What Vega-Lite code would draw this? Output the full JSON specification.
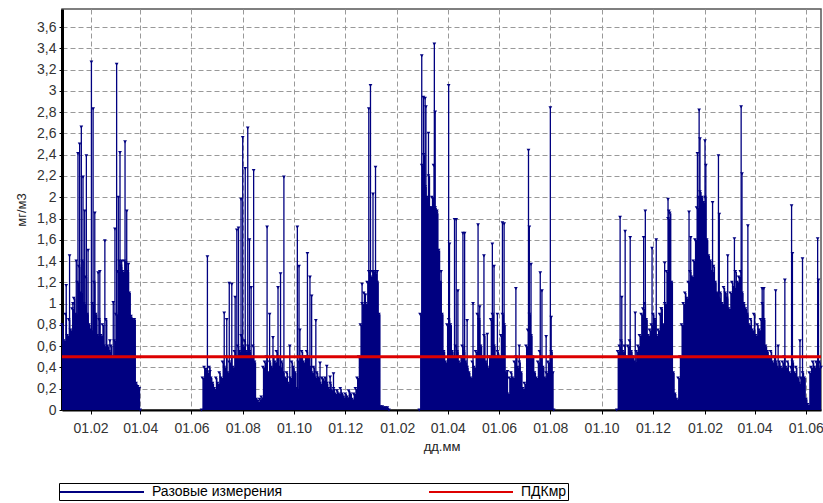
{
 "$schema": "https://vega.github.io/schema/vega-lite/v6.json",
 "width": 759,
 "height": 401,
 "autosize": {"type": "none"},
 "padding": {"left": 62, "top": 9, "right": 2, "bottom": 93},
 "background": "white",
 "config": {
  "font": "Liberation Sans",
  "view": {"stroke": "#555", "strokeWidth": 1.5},
  "axis": {"gridColor": "#999", "gridDash": [5, 3], "gridWidth": 1, "labelFont": "Liberation Sans", "labelFontSize": 14, "labelColor": "#333", "labelOverlap": false, "titleFont": "Liberation Sans", "titleFontSize": 13, "titleFontWeight": "normal", "titleColor": "#222", "domainColor": "#000", "tickColor": "#000"}
 },
 "datasets": {
  "base": [
   {"d":"2010-12-29","v":0.8},{"d":"2010-12-31","v":0.65},{"d":"2011-01-02","v":0.9},{"d":"2011-01-04","v":0.7},{"d":"2011-01-06","v":0.85},{"d":"2011-01-08","v":0.75},{"d":"2011-01-10","v":0.95},{"d":"2011-01-12","v":1.05},{"d":"2011-01-14","v":0.9},{"d":"2011-01-16","v":1.2},{"d":"2011-01-18","v":1.35},{"d":"2011-01-20","v":1.1},{"d":"2011-01-22","v":1.4},{"d":"2011-01-24","v":1.0},{"d":"2011-01-26","v":1.25},{"d":"2011-01-28","v":0.9},{"d":"2011-01-30","v":0.8},{"d":"2011-02-01","v":0.75},{"d":"2011-02-03","v":1.0},{"d":"2011-02-05","v":1.2},{"d":"2011-02-07","v":0.9},{"d":"2011-02-09","v":0.7},{"d":"2011-02-11","v":0.85},{"d":"2011-02-13","v":0.7},{"d":"2011-02-15","v":0.8},{"d":"2011-02-17","v":0.6},{"d":"2011-02-19","v":0.85},{"d":"2011-02-21","v":0.6},{"d":"2011-02-23","v":0.55},{"d":"2011-02-25","v":0.6},{"d":"2011-02-27","v":0.5},{"d":"2011-03-01","v":0.65},{"d":"2011-03-03","v":0.9},{"d":"2011-03-05","v":1.3},{"d":"2011-03-07","v":1.4},{"d":"2011-03-09","v":1.35},{"d":"2011-03-11","v":1.3},{"d":"2011-03-13","v":1.4},{"d":"2011-03-15","v":1.38},{"d":"2011-03-17","v":1.3},{"d":"2011-03-19","v":1.1},{"d":"2011-03-21","v":0.88},{"d":"2011-03-23","v":0.85},{"d":"2011-03-25","v":0.85},{"d":"2011-03-27","v":0.25},{"d":"2011-03-29","v":0.22},{"d":"2011-03-31","v":0.2},{"d":"2011-04-01","v":0},
   {"d":"2011-06-13","v":0},{"d":"2011-06-14","v":0.3},{"d":"2011-06-16","v":0.4},{"d":"2011-06-18","v":0.38},{"d":"2011-06-20","v":0.35},{"d":"2011-06-22","v":0.4},{"d":"2011-06-24","v":0.3},{"d":"2011-06-26","v":0.25},{"d":"2011-06-28","v":0.2},{"d":"2011-06-30","v":0.3},{"d":"2011-07-02","v":0.25},{"d":"2011-07-04","v":0.35},{"d":"2011-07-06","v":0.3},{"d":"2011-07-08","v":0.45},{"d":"2011-07-10","v":0.4},{"d":"2011-07-12","v":0.5},{"d":"2011-07-14","v":0.35},{"d":"2011-07-16","v":0.45},{"d":"2011-07-18","v":0.5},{"d":"2011-07-20","v":0.4},{"d":"2011-07-22","v":0.55},{"d":"2011-07-24","v":0.5},{"d":"2011-07-26","v":0.6},{"d":"2011-07-28","v":0.55},{"d":"2011-07-30","v":0.7},{"d":"2011-08-01","v":0.6},{"d":"2011-08-03","v":0.65},{"d":"2011-08-05","v":0.55},{"d":"2011-08-07","v":0.6},{"d":"2011-08-09","v":0.55},{"d":"2011-08-11","v":0.5},{"d":"2011-08-13","v":0.6},{"d":"2011-08-15","v":0.45},{"d":"2011-08-17","v":0.1},{"d":"2011-08-19","v":0.08},{"d":"2011-08-21","v":0.1},{"d":"2011-08-23","v":0.12},{"d":"2011-08-25","v":0.4},{"d":"2011-08-27","v":0.45},{"d":"2011-08-29","v":0.5},{"d":"2011-08-31","v":0.35},{"d":"2011-09-02","v":0.45},{"d":"2011-09-04","v":0.4},{"d":"2011-09-06","v":0.5},{"d":"2011-09-08","v":0.45},{"d":"2011-09-10","v":0.55},{"d":"2011-09-12","v":0.5},{"d":"2011-09-14","v":0.4},{"d":"2011-09-16","v":0.45},{"d":"2011-09-18","v":0.35},{"d":"2011-09-20","v":0.3},{"d":"2011-09-22","v":0.35},{"d":"2011-09-24","v":0.25},{"d":"2011-09-26","v":0.3},{"d":"2011-09-28","v":0.45},{"d":"2011-09-30","v":0.4},{"d":"2011-10-02","v":0.35},{"d":"2011-10-04","v":0.2},{"d":"2011-10-06","v":0.45},{"d":"2011-10-08","v":0.5},{"d":"2011-10-10","v":0.55},{"d":"2011-10-12","v":0.45},{"d":"2011-10-14","v":0.5},{"d":"2011-10-16","v":0.55},{"d":"2011-10-18","v":0.5},{"d":"2011-10-20","v":0.4},{"d":"2011-10-22","v":0.35},{"d":"2011-10-24","v":0.4},{"d":"2011-10-26","v":0.3},{"d":"2011-10-28","v":0.35},{"d":"2011-10-30","v":0.3},{"d":"2011-11-01","v":0.25},{"d":"2011-11-03","v":0.3},{"d":"2011-11-05","v":0.28},{"d":"2011-11-07","v":0.3},{"d":"2011-11-09","v":0.25},{"d":"2011-11-11","v":0.2},{"d":"2011-11-13","v":0.25},{"d":"2011-11-15","v":0.18},{"d":"2011-11-17","v":0.2},{"d":"2011-11-19","v":0.15},{"d":"2011-11-21","v":0.18},{"d":"2011-11-23","v":0.15},{"d":"2011-11-25","v":0.2},{"d":"2011-11-27","v":0.15},{"d":"2011-11-29","v":0.12},{"d":"2011-12-01","v":0.15},{"d":"2011-12-03","v":0.12},{"d":"2011-12-05","v":0.18},{"d":"2011-12-07","v":0.15},{"d":"2011-12-09","v":0.1},{"d":"2011-12-11","v":0.15},{"d":"2011-12-13","v":0.2},{"d":"2011-12-15","v":0.3},{"d":"2011-12-17","v":0.5},{"d":"2011-12-19","v":0.8},{"d":"2011-12-21","v":1.0},{"d":"2011-12-23","v":1.1},{"d":"2011-12-25","v":1.0},{"d":"2011-12-27","v":1.2},{"d":"2011-12-29","v":1.3},{"d":"2011-12-31","v":1.25},{"d":"2012-01-02","v":1.3},{"d":"2012-01-04","v":1.3},{"d":"2012-01-06","v":1.28},{"d":"2012-01-08","v":1.2},{"d":"2012-01-10","v":0.9},{"d":"2012-01-12","v":0.03},{"d":"2012-01-14","v":0.03},{"d":"2012-01-16","v":0.02},{"d":"2012-01-18","v":0.02},{"d":"2012-01-20","v":0.02},{"d":"2012-01-22","v":0},
   {"d":"2012-02-27","v":0},{"d":"2012-02-28","v":0.9},{"d":"2012-03-01","v":2.3},{"d":"2012-03-03","v":2.4},{"d":"2012-03-05","v":2.1},{"d":"2012-03-07","v":2.0},{"d":"2012-03-09","v":2.2},{"d":"2012-03-11","v":1.9},{"d":"2012-03-13","v":2.0},{"d":"2012-03-15","v":2.3},{"d":"2012-03-17","v":1.9},{"d":"2012-03-19","v":1.85},{"d":"2012-03-21","v":1.5},{"d":"2012-03-23","v":1.2},{"d":"2012-03-25","v":0.9},{"d":"2012-03-27","v":0.55},{"d":"2012-03-29","v":0.45},{"d":"2012-03-31","v":0.8},{"d":"2012-04-02","v":0.85},{"d":"2012-04-04","v":0.8},{"d":"2012-04-06","v":0.55},{"d":"2012-04-08","v":0.5},{"d":"2012-04-10","v":0.6},{"d":"2012-04-12","v":0.55},{"d":"2012-04-14","v":0.45},{"d":"2012-04-16","v":0.5},{"d":"2012-04-18","v":0.6},{"d":"2012-04-20","v":0.55},{"d":"2012-04-22","v":0.45},{"d":"2012-04-24","v":0.4},{"d":"2012-04-26","v":0.35},{"d":"2012-04-28","v":0.3},{"d":"2012-04-30","v":0.45},{"d":"2012-05-02","v":0.4},{"d":"2012-05-04","v":0.55},{"d":"2012-05-06","v":0.9},{"d":"2012-05-08","v":0.85},{"d":"2012-05-10","v":0.6},{"d":"2012-05-12","v":0.5},{"d":"2012-05-14","v":0.7},{"d":"2012-05-16","v":0.45},{"d":"2012-05-18","v":0.4},{"d":"2012-05-20","v":0.5},{"d":"2012-05-22","v":0.85},{"d":"2012-05-24","v":0.9},{"d":"2012-05-26","v":0.6},{"d":"2012-05-28","v":0.5},{"d":"2012-05-30","v":0.55},{"d":"2012-06-01","v":0.5},{"d":"2012-06-03","v":0.7},{"d":"2012-06-05","v":0.9},{"d":"2012-06-07","v":0.8},{"d":"2012-06-09","v":0.35},{"d":"2012-06-11","v":0.15},{"d":"2012-06-13","v":0.3},{"d":"2012-06-15","v":0.35},{"d":"2012-06-17","v":0.3},{"d":"2012-06-19","v":0.45},{"d":"2012-06-21","v":0.5},{"d":"2012-06-23","v":0.4},{"d":"2012-06-25","v":0.45},{"d":"2012-06-27","v":0.35},{"d":"2012-06-29","v":0.2},{"d":"2012-07-01","v":0.25},{"d":"2012-07-03","v":0.6},{"d":"2012-07-05","v":0.75},{"d":"2012-07-07","v":0.9},{"d":"2012-07-09","v":0.7},{"d":"2012-07-11","v":0.5},{"d":"2012-07-13","v":0.35},{"d":"2012-07-15","v":0.3},{"d":"2012-07-17","v":0.45},{"d":"2012-07-19","v":0.55},{"d":"2012-07-21","v":0.5},{"d":"2012-07-23","v":0.4},{"d":"2012-07-25","v":0.3},{"d":"2012-07-27","v":0.35},{"d":"2012-07-29","v":0.45},{"d":"2012-07-31","v":0.5},{"d":"2012-08-02","v":0.55},{"d":"2012-08-04","v":0.35},{"d":"2012-08-05","v":0},
   {"d":"2012-10-19","v":0},{"d":"2012-10-20","v":0.55},{"d":"2012-10-22","v":0.6},{"d":"2012-10-24","v":0.65},{"d":"2012-10-26","v":0.55},{"d":"2012-10-28","v":0.6},{"d":"2012-10-30","v":0.5},{"d":"2012-11-01","v":0.6},{"d":"2012-11-03","v":0.65},{"d":"2012-11-05","v":0.55},{"d":"2012-11-07","v":0.5},{"d":"2012-11-09","v":0.45},{"d":"2012-11-11","v":0.55},{"d":"2012-11-13","v":0.6},{"d":"2012-11-15","v":0.7},{"d":"2012-11-17","v":0.9},{"d":"2012-11-19","v":0.95},{"d":"2012-11-21","v":1.0},{"d":"2012-11-23","v":0.85},{"d":"2012-11-25","v":0.7},{"d":"2012-11-27","v":0.75},{"d":"2012-11-29","v":0.8},{"d":"2012-12-01","v":0.9},{"d":"2012-12-03","v":0.85},{"d":"2012-12-05","v":0.7},{"d":"2012-12-07","v":0.75},{"d":"2012-12-09","v":0.9},{"d":"2012-12-11","v":0.95},{"d":"2012-12-13","v":0.8},{"d":"2012-12-15","v":1.0},{"d":"2012-12-17","v":1.3},{"d":"2012-12-19","v":1.8},{"d":"2012-12-21","v":1.85},{"d":"2012-12-23","v":1.2},{"d":"2012-12-25","v":0.35},{"d":"2012-12-27","v":0.15},{"d":"2012-12-29","v":0.1},{"d":"2012-12-31","v":0.3},{"d":"2013-01-02","v":0.5},{"d":"2013-01-04","v":0.8},{"d":"2013-01-06","v":1.0},{"d":"2013-01-08","v":1.1},{"d":"2013-01-10","v":1.05},{"d":"2013-01-12","v":1.2},{"d":"2013-01-14","v":1.3},{"d":"2013-01-16","v":1.25},{"d":"2013-01-18","v":1.4},{"d":"2013-01-20","v":1.6},{"d":"2013-01-22","v":1.9},{"d":"2013-01-24","v":2.0},{"d":"2013-01-26","v":2.05},{"d":"2013-01-28","v":2.0},{"d":"2013-01-30","v":1.95},{"d":"2013-02-01","v":2.0},{"d":"2013-02-03","v":1.6},{"d":"2013-02-05","v":1.45},{"d":"2013-02-07","v":1.4},{"d":"2013-02-09","v":1.3},{"d":"2013-02-11","v":1.35},{"d":"2013-02-13","v":1.2},{"d":"2013-02-15","v":1.1},{"d":"2013-02-17","v":1.05},{"d":"2013-02-19","v":1.1},{"d":"2013-02-21","v":1.0},{"d":"2013-02-23","v":1.15},{"d":"2013-02-25","v":1.1},{"d":"2013-02-27","v":1.05},{"d":"2013-03-01","v":0.95},{"d":"2013-03-03","v":1.1},{"d":"2013-03-05","v":1.2},{"d":"2013-03-07","v":1.15},{"d":"2013-03-09","v":1.3},{"d":"2013-03-11","v":1.2},{"d":"2013-03-13","v":1.25},{"d":"2013-03-15","v":1.3},{"d":"2013-03-17","v":1.1},{"d":"2013-03-19","v":1.0},{"d":"2013-03-21","v":0.95},{"d":"2013-03-23","v":0.9},{"d":"2013-03-25","v":0.8},{"d":"2013-03-27","v":0.85},{"d":"2013-03-29","v":0.75},{"d":"2013-03-31","v":0.9},{"d":"2013-04-02","v":0.7},{"d":"2013-04-04","v":0.8},{"d":"2013-04-06","v":0.75},{"d":"2013-04-08","v":0.85},{"d":"2013-04-10","v":1.0},{"d":"2013-04-12","v":0.85},{"d":"2013-04-14","v":0.6},{"d":"2013-04-16","v":0.55},{"d":"2013-04-18","v":0.5},{"d":"2013-04-20","v":0.55},{"d":"2013-04-22","v":0.45},{"d":"2013-04-24","v":0.5},{"d":"2013-04-26","v":0.45},{"d":"2013-04-28","v":0.4},{"d":"2013-04-30","v":0.45},{"d":"2013-05-02","v":0.4},{"d":"2013-05-04","v":0.45},{"d":"2013-05-06","v":0.5},{"d":"2013-05-08","v":0.4},{"d":"2013-05-10","v":0.45},{"d":"2013-05-12","v":0.35},{"d":"2013-05-14","v":0.4},{"d":"2013-05-16","v":0.45},{"d":"2013-05-18","v":0.35},{"d":"2013-05-20","v":0.4},{"d":"2013-05-22","v":0.3},{"d":"2013-05-24","v":0.25},{"d":"2013-05-26","v":0.3},{"d":"2013-05-28","v":0.35},{"d":"2013-05-30","v":0.3},{"d":"2013-06-01","v":0.1},{"d":"2013-06-03","v":0.05},{"d":"2013-06-05","v":0.35},{"d":"2013-06-07","v":0.4},{"d":"2013-06-09","v":0.45},{"d":"2013-06-11","v":0.4},{"d":"2013-06-13","v":0.45},{"d":"2013-06-15","v":0.4},{"d":"2013-06-17","v":0.45},{"d":"2013-06-19","v":0.4}
  ],
  "peaks": [
   {"d":"2011-01-03","v":1.17},{"d":"2011-01-07","v":1.45},{"d":"2011-01-11","v":1.0},{"d":"2011-01-15","v":1.4},{"d":"2011-01-17","v":2.41},{"d":"2011-01-19","v":2.5},{"d":"2011-01-21","v":2.66},{"d":"2011-01-23","v":2.19},{"d":"2011-01-25","v":1.87},{"d":"2011-01-27","v":2.39},{"d":"2011-01-29","v":1.5},{"d":"2011-02-02","v":3.27},{"d":"2011-02-04","v":2.83},{"d":"2011-02-06","v":1.85},{"d":"2011-02-10","v":1.29},{"d":"2011-02-12","v":1.3},{"d":"2011-02-18","v":1.59},{"d":"2011-02-24","v":0.65},{"d":"2011-02-28","v":1.01},{"d":"2011-03-02","v":1.7},{"d":"2011-03-04","v":3.25},{"d":"2011-03-06","v":2.0},{"d":"2011-03-08","v":2.42},{"d":"2011-03-10","v":1.4},{"d":"2011-03-14","v":2.52},{"d":"2011-03-16","v":1.87},{"d":"2011-03-18","v":1.37},
   {"d":"2011-06-20","v":1.44},{"d":"2011-06-23","v":0.36},{"d":"2011-07-10","v":0.91},{"d":"2011-07-13","v":0.85},{"d":"2011-07-16","v":1.19},{"d":"2011-07-19","v":1.18},{"d":"2011-07-23","v":1.06},{"d":"2011-07-25","v":1.69},{"d":"2011-07-27","v":1.71},{"d":"2011-07-30","v":1.98},{"d":"2011-08-01","v":2.56},{"d":"2011-08-04","v":2.27},{"d":"2011-08-07","v":2.65},{"d":"2011-08-09","v":1.6},{"d":"2011-08-11","v":1.15},{"d":"2011-08-14","v":2.25},{"d":"2011-08-30","v":1.72},{"d":"2011-09-02","v":0.9},{"d":"2011-09-06","v":0.68},{"d":"2011-09-12","v":1.15},{"d":"2011-09-15","v":1.28},{"d":"2011-09-19","v":2.19},{"d":"2011-09-26","v":0.6},{"d":"2011-10-05","v":1.72},{"d":"2011-10-07","v":1.35},{"d":"2011-10-08","v":0.75},{"d":"2011-10-17","v":1.47},{"d":"2011-10-20","v":1.25},{"d":"2011-10-22","v":1.07},{"d":"2011-10-27","v":0.84},{"d":"2011-11-01","v":0.44},{"d":"2011-11-09","v":0.41},{"d":"2011-11-13","v":0.31},{"d":"2011-11-17","v":0.34},{"d":"2011-12-21","v":1.18},{"d":"2011-12-25","v":1.08},{"d":"2011-12-29","v":2.83},{"d":"2011-12-31","v":3.05},{"d":"2012-01-03","v":2.03},{"d":"2012-01-06","v":2.28},{"d":"2012-01-08","v":1.3},
   {"d":"2012-03-01","v":3.33},{"d":"2012-03-03","v":2.94},{"d":"2012-03-05","v":2.93},{"d":"2012-03-06","v":2.85},{"d":"2012-03-09","v":2.6},{"d":"2012-03-12","v":1.9},{"d":"2012-03-16","v":3.44},{"d":"2012-03-17","v":2.8},{"d":"2012-03-19","v":1.87},{"d":"2012-03-24","v":1.3},{"d":"2012-04-02","v":3.05},{"d":"2012-04-03","v":1.56},{"d":"2012-04-09","v":1.79},{"d":"2012-04-11","v":1.79},{"d":"2012-04-13","v":1.12},{"d":"2012-04-19","v":1.66},{"d":"2012-04-21","v":1.66},{"d":"2012-04-24","v":0.84},{"d":"2012-05-01","v":1.0},{"d":"2012-05-07","v":1.74},{"d":"2012-05-09","v":0.97},{"d":"2012-05-14","v":1.45},{"d":"2012-05-18","v":0.71},{"d":"2012-05-24","v":1.56},{"d":"2012-05-26","v":1.35},{"d":"2012-05-30","v":0.9},{"d":"2012-06-05","v":1.76},{"d":"2012-06-07","v":1.75},{"d":"2012-06-11","v":0.36},{"d":"2012-06-21","v":1.14},{"d":"2012-06-25","v":0.6},{"d":"2012-07-06","v":2.44},{"d":"2012-07-07","v":1.72},{"d":"2012-07-09","v":1.37},{"d":"2012-07-20","v":1.29},{"d":"2012-07-22","v":1.12},{"d":"2012-07-27","v":0.69},{"d":"2012-08-01","v":2.84},{"d":"2012-08-02","v":0.87},
   {"d":"2012-10-23","v":1.81},{"d":"2012-10-25","v":1.06},{"d":"2012-10-29","v":1.68},{"d":"2012-11-04","v":1.62},{"d":"2012-11-10","v":0.91},{"d":"2012-11-20","v":1.62},{"d":"2012-11-22","v":1.87},{"d":"2012-11-30","v":1.52},{"d":"2012-12-05","v":1.6},{"d":"2012-12-11","v":0.95},{"d":"2012-12-15","v":1.38},{"d":"2012-12-19","v":1.98},{"d":"2012-12-20","v":1.87},{"d":"2013-01-13","v":1.86},{"d":"2013-01-15","v":1.62},{"d":"2013-01-23","v":2.41},{"d":"2013-01-25","v":2.82},{"d":"2013-01-26","v":2.55},{"d":"2013-02-01","v":2.53},{"d":"2013-02-02","v":2.3},{"d":"2013-02-10","v":1.95},{"d":"2013-02-17","v":2.39},{"d":"2013-02-18","v":1.84},{"d":"2013-02-28","v":1.45},{"d":"2013-03-08","v":1.61},{"d":"2013-03-16","v":2.85},{"d":"2013-03-17","v":2.22},{"d":"2013-03-24","v":1.73},{"d":"2013-04-10","v":1.14},{"d":"2013-04-12","v":1.14},{"d":"2013-04-26","v":1.12},{"d":"2013-04-29","v":0.6},{"d":"2013-05-07","v":1.22},{"d":"2013-05-15","v":1.92},{"d":"2013-05-16","v":1.47},{"d":"2013-05-25","v":0.65},{"d":"2013-05-28","v":1.42},{"d":"2013-06-15","v":1.61},{"d":"2013-06-16","v":1.22}
  ],
  "limit": [{"v": 0.5}]
 },
 "layer": [
  {
   "data": {"name": "peaks"},
   "mark": {"type": "rule", "strokeWidth": 1.3},
   "encoding": {
    "x": {"field": "d", "type": "temporal",
     "scale": {"type": "utc", "domain": [{"year": 2010, "month": 12, "date": 29, "utc": true}, {"year": 2013, "month": 6, "date": 19, "utc": true}]},
     "axis": {"title": "дд.мм", "labelExpr": "utcFormat(datum.value, '%d.%m')", "labelOverlap": false, "tickCount": 30, "tickSize": 4, "labelPadding": 7, "titlePadding": 5, "domainWidth": 2, "grid": true,
      "values": [
       {"year": 2011, "month": 2, "date": 1, "utc": true}, {"year": 2011, "month": 4, "date": 1, "utc": true}, {"year": 2011, "month": 6, "date": 1, "utc": true}, {"year": 2011, "month": 8, "date": 1, "utc": true}, {"year": 2011, "month": 10, "date": 1, "utc": true}, {"year": 2011, "month": 12, "date": 1, "utc": true},
       {"year": 2012, "month": 2, "date": 1, "utc": true}, {"year": 2012, "month": 4, "date": 1, "utc": true}, {"year": 2012, "month": 6, "date": 1, "utc": true}, {"year": 2012, "month": 8, "date": 1, "utc": true}, {"year": 2012, "month": 10, "date": 1, "utc": true}, {"year": 2012, "month": 12, "date": 1, "utc": true},
       {"year": 2013, "month": 2, "date": 1, "utc": true}, {"year": 2013, "month": 4, "date": 1, "utc": true}, {"year": 2013, "month": 6, "date": 1, "utc": true}
      ]}},
    "y": {"field": "v", "type": "quantitative",
     "scale": {"domain": [0, 3.77], "nice": false, "zero": true},
     "axis": {"title": "мг/м3", "values": [0, 0.2, 0.4, 0.6, 0.8, 1, 1.2, 1.4, 1.6, 1.8, 2, 2.2, 2.4, 2.6, 2.8, 3, 3.2, 3.4, 3.6],
      "tickCount": 40, "labelExpr": "replace(format(datum.value, '.1~f'), '.', ',')", "labelOverlap": false, "tickSize": 3, "labelPadding": 3, "titlePadding": 8, "domainWidth": 3, "grid": true}},
    "y2": {"datum": 0},
    "color": {"datum": "Разовые измерения", "type": "nominal",
     "scale": {"domain": ["Разовые измерения", "ПДКмр"], "range": ["#000080", "#dd0000"]},
     "legend": {"orient": "none", "legendX": -3, "legendY": 474, "direction": "horizontal", "title": null,
      "symbolType": "M-6,0L6,0", "symbolSize": 196, "symbolStrokeWidth": 2, "symbolOffset": 34,
      "labelFont": "Liberation Sans", "labelFontSize": 14, "labelColor": "#000", "labelOffset": 42,
      "strokeColor": "#000", "fillColor": "white", "padding": 1, "columnPadding": 142}}
   }
  },
  {
   "data": {"name": "base"},
   "mark": {"type": "area", "interpolate": "step-after", "opacity": 1},
   "encoding": {
    "x": {"field": "d", "type": "temporal"},
    "y": {"field": "v", "type": "quantitative"},
    "color": {"datum": "Разовые измерения", "type": "nominal"}
   }
  },
  {
   "data": {"name": "base"},
   "mark": {"type": "point", "shape": "triangle-down", "filled": true, "size": 14, "opacity": 1},
   "encoding": {
    "x": {"field": "d", "type": "temporal"},
    "y": {"field": "v", "type": "quantitative"},
    "color": {"datum": "Разовые измерения", "type": "nominal"}
   }
  },
  {
   "data": {"name": "peaks"},
   "mark": {"type": "point", "shape": "triangle-down", "filled": true, "size": 14, "opacity": 1},
   "encoding": {
    "x": {"field": "d", "type": "temporal"},
    "y": {"field": "v", "type": "quantitative"},
    "color": {"datum": "Разовые измерения", "type": "nominal"}
   }
  },
  {
   "data": {"name": "limit"},
   "mark": {"type": "rule", "strokeWidth": 3},
   "encoding": {
    "y": {"field": "v", "type": "quantitative"},
    "color": {"datum": "ПДКмр", "type": "nominal"}
   }
  }
 ]
}
